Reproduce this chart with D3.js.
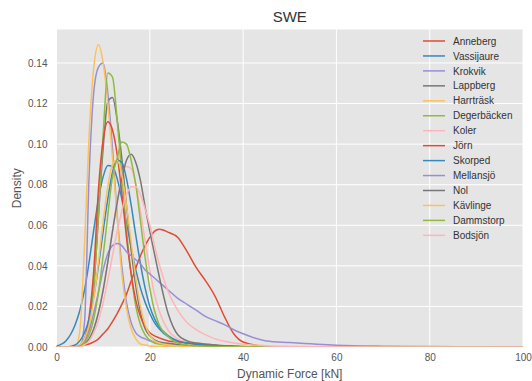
<!DOCTYPE html>
<html>
<head>
<meta charset="utf-8">
<script src="https://cdn.jsdelivr.net/npm/d3@7"></script>
<style>
  body { margin: 0; background: #fff; }
  svg { font-family: "Liberation Sans", Arial, sans-serif; }
</style>
</head>
<body>
<svg id="chart"></svg>
<script>
let width = 532
let height = 381
let margin = {top: 29.5, right: 9, bottom: 34, left: 56.5}

let title = "SWE"
let xLabel = "Dynamic Force [kN]"
let yLabel = "Density"

let xTicks = [0, 20, 40, 60, 80, 100]
let yTicks = [0, 0.02, 0.04, 0.06, 0.08, 0.10, 0.12, 0.14]

let sites = ["Anneberg", "Vassijaure", "Krokvik", "Lappberg", "Harrträsk", "Degerbäcken", "Koler",
  "Jörn", "Skorped", "Mellansjö", "Nol", "Kävlinge", "Dammstorp", "Bodsjön"]

// ggplot style colour cycle
let palette = ["#E24A33", "#348ABD", "#988ED5", "#777777", "#FBC15E", "#8EBA42", "#FFB5B8"]

// force grid (kN) shared by all curves
let force = [0, 2, 4, 5, 6, 7, 8, 9, 10, 11, 12, 13, 14, 15, 16, 17, 18, 19, 20, 21, 22,
  24, 26, 28, 30, 32, 34, 36, 38, 40, 45, 50, 60, 70, 80, 90, 100]

// densities, one list per site, same order as force
let anneberg = [0, 0, 0, 0.0005, 0.001, 0.0015, 0.0025, 0.004, 0.0065, 0.009, 0.0125, 0.0165, 0.021, 0.026, 0.0325, 0.039, 0.045, 0.050, 0.054, 0.057, 0.058,
  0.0565, 0.054, 0.047, 0.039, 0.0325, 0.025, 0.015, 0.0065, 0.0025, 0.0003, 0.0001, 0, 0, 0, 0, 0]
let vassijaure = [0.0005, 0.003, 0.011, 0.018, 0.028, 0.042, 0.058, 0.073, 0.084, 0.0895, 0.089, 0.083, 0.073, 0.061, 0.049, 0.038, 0.029, 0.022, 0.0165, 0.012, 0.009,
  0.005, 0.003, 0.002, 0.0015, 0.001, 0.0007, 0.0004, 0.0002, 0.0001, 0, 0, 0, 0, 0, 0, 0]
let krokvik = [0, 0, 0, 0, 0.012, 0.085, 0.126, 0.138, 0.140, 0.125, 0.098, 0.065, 0.040, 0.022, 0.012, 0.007, 0.005, 0.004, 0.003, 0.0025, 0.002,
  0.0015, 0.001, 0.0007, 0.0005, 0.0003, 0.0002, 0, 0, 0, 0, 0, 0, 0, 0, 0, 0]
let lappberg = [0, 0, 0, 0.0005, 0.003, 0.012, 0.030, 0.065, 0.098, 0.121, 0.123, 0.112, 0.093, 0.070, 0.048, 0.030, 0.017, 0.009, 0.0055, 0.0035, 0.0025,
  0.0018, 0.0012, 0.0008, 0.0005, 0.0003, 0.0002, 0, 0, 0, 0, 0, 0, 0, 0, 0, 0]
let harrtrask = [0, 0, 0, 0.008, 0.050, 0.105, 0.138, 0.149, 0.140, 0.120, 0.093, 0.064, 0.036, 0.019, 0.009, 0.004, 0.0015, 0.001, 0.0005, 0.0003, 0.0002,
  0.0002, 0.0001, 0, 0, 0, 0, 0, 0, 0, 0, 0, 0, 0, 0, 0, 0]
let degerbacken = [0, 0, 0, 0, 0.002, 0.010, 0.030, 0.065, 0.105, 0.135, 0.133, 0.112, 0.085, 0.058, 0.036, 0.020, 0.011, 0.006, 0.0035, 0.002, 0.0015,
  0.001, 0.0006, 0.0003, 0.0002, 0, 0, 0, 0, 0, 0, 0, 0, 0, 0, 0, 0]
let koler = [0, 0, 0, 0.0005, 0.0015, 0.004, 0.009, 0.017, 0.028, 0.042, 0.057, 0.072, 0.084, 0.089, 0.088, 0.080, 0.067, 0.052, 0.038, 0.026, 0.018,
  0.008, 0.004, 0.0025, 0.0018, 0.0012, 0.0008, 0.0005, 0.0003, 0.0002, 0, 0, 0, 0, 0, 0, 0]
let jorn = [0, 0, 0, 0.001, 0.004, 0.015, 0.038, 0.078, 0.102, 0.111, 0.107, 0.095, 0.076, 0.054, 0.036, 0.023, 0.015, 0.010, 0.007, 0.0055, 0.0045,
  0.003, 0.0025, 0.002, 0.0015, 0.001, 0.0008, 0.0006, 0.0004, 0.0002, 0, 0, 0, 0, 0, 0, 0]
let skorped = [0, 0, 0.001, 0.003, 0.007, 0.014, 0.025, 0.040, 0.057, 0.073, 0.086, 0.092, 0.091, 0.083, 0.070, 0.055, 0.041, 0.029, 0.020, 0.014, 0.010,
  0.0055, 0.003, 0.002, 0.0015, 0.001, 0.0008, 0.0005, 0.0003, 0.0001, 0, 0, 0, 0, 0, 0, 0]
let mellansjo = [0, 0, 0, 0, 0.003, 0.008, 0.017, 0.027, 0.038, 0.046, 0.050, 0.051, 0.050, 0.047, 0.045, 0.043, 0.041, 0.038, 0.036, 0.034, 0.032,
  0.028, 0.024, 0.021, 0.018, 0.015, 0.013, 0.011, 0.0085, 0.0065, 0.003, 0.0022, 0.0009, 0.0004, 0.0002, 0.0001, 0]
let nol = [0, 0, 0, 0.0005, 0.0015, 0.004, 0.009, 0.017, 0.028, 0.042, 0.057, 0.071, 0.083, 0.092, 0.095, 0.091, 0.082, 0.069, 0.057, 0.046, 0.035,
  0.016, 0.006, 0.003, 0.002, 0.0015, 0.001, 0.0006, 0.0003, 0.0001, 0, 0, 0, 0, 0, 0, 0]
let kavlinge = [0, 0, 0, 0.001, 0.004, 0.011, 0.024, 0.042, 0.062, 0.079, 0.090, 0.092, 0.085, 0.070, 0.052, 0.034, 0.020, 0.011, 0.006, 0.003, 0.002,
  0.001, 0.0005, 0.0003, 0, 0, 0, 0, 0, 0, 0, 0, 0, 0, 0, 0, 0]
let dammstorp = [0, 0, 0, 0.0005, 0.002, 0.006, 0.014, 0.027, 0.045, 0.065, 0.084, 0.093, 0.101, 0.100, 0.092, 0.080, 0.062, 0.044, 0.029, 0.018, 0.011,
  0.005, 0.002, 0.001, 0.0006, 0.0004, 0.0002, 0, 0, 0, 0, 0, 0, 0, 0, 0, 0]
let bodsjon = [0, 0, 0, 0, 0.001, 0.003, 0.007, 0.013, 0.022, 0.033, 0.045, 0.057, 0.067, 0.075, 0.079, 0.079, 0.075, 0.068, 0.060, 0.050, 0.041,
  0.027, 0.018, 0.012, 0.0085, 0.006, 0.004, 0.0028, 0.002, 0.0014, 0.0006, 0.0003, 0.0001, 0, 0, 0, 0]

let densities = [anneberg, vassijaure, krokvik, lappberg, harrtrask, degerbacken, koler,
  jorn, skorped, mellansjo, nol, kavlinge, dammstorp, bodsjon]

let svg = d3.select("#chart").attr("width", width).attr("height", height)

let xScale = d3.scaleLinear().domain([0, 100]).range([margin.left, width - margin.right])
let yScale = d3.scaleLinear().domain([0, 0.1565]).range([height - margin.bottom, margin.top])

// panel background
svg.append("rect")
  .attr("x", margin.left)
  .attr("y", margin.top)
  .attr("width", width - margin.left - margin.right)
  .attr("height", height - margin.top - margin.bottom)
  .attr("fill", "#E5E5E5")

svg.append("clipPath").attr("id", "clip")
  .append("rect")
  .attr("x", margin.left)
  .attr("y", margin.top)
  .attr("width", width - margin.left - margin.right)
  .attr("height", height - margin.top - margin.bottom)

// grid
svg.append("g")
  .selectAll("line")
  .data(xTicks)
  .enter()
  .append("line")
  .attr("x1", d => xScale(d)).attr("x2", d => xScale(d))
  .attr("y1", margin.top).attr("y2", height - margin.bottom)
  .attr("stroke", "#fff").attr("stroke-width", 1)

svg.append("g")
  .selectAll("line")
  .data(yTicks)
  .enter()
  .append("line")
  .attr("x1", margin.left).attr("x2", width - margin.right)
  .attr("y1", d => yScale(d)).attr("y2", d => yScale(d))
  .attr("stroke", "#fff").attr("stroke-width", 1)

// axes
let xAxis = d3.axisBottom(xScale).tickValues(xTicks).tickSize(0).tickPadding(7).tickFormat(d3.format("d"))
svg.append("g")
  .attr("transform", "translate(0," + (height - margin.bottom) + ")")
  .call(xAxis)
  .call(g => g.select(".domain").remove())
  .selectAll("text").attr("fill", "#555").attr("font-size", 10)

let yAxis = d3.axisLeft(yScale).tickValues(yTicks).tickSize(0).tickPadding(9).tickFormat(d3.format(".2f"))
svg.append("g")
  .attr("transform", "translate(" + margin.left + ",0)")
  .call(yAxis)
  .call(g => g.select(".domain").remove())
  .selectAll("text").attr("fill", "#555").attr("font-size", 10)

// curves
let line = d3.line()
  .x((d, i) => xScale(force[i]))
  .y(d => yScale(d))
  .curve(d3.curveMonotoneX)

svg.append("g")
  .attr("clip-path", "url(#clip)")
  .selectAll("path")
  .data(densities)
  .enter()
  .append("path")
  .attr("d", d => line(d))
  .attr("fill", "none")
  .attr("stroke", (d, i) => palette[i % palette.length])
  .attr("stroke-width", 1.5)

// legend
let legend = svg.append("g").attr("transform", "translate(423,41)")
let rows = legend.selectAll("g")
  .data(sites)
  .enter()
  .append("g")
  .attr("transform", (d, i) => "translate(0," + (i * 14.95) + ")")

rows.append("line")
  .attr("x1", 0).attr("x2", 22)
  .attr("stroke", (d, i) => palette[i % palette.length])
  .attr("stroke-width", 1.5)

rows.append("text")
  .attr("x", 30)
  .attr("y", 3.6)
  .attr("font-size", 10)
  .attr("fill", "#333")
  .text(d => d)

// titles
svg.append("text")
  .attr("x", (margin.left + width - margin.right) / 2)
  .attr("y", 22)
  .attr("text-anchor", "middle")
  .attr("font-size", 15)
  .attr("fill", "#333")
  .text(title)

svg.append("text")
  .attr("x", (margin.left + width - margin.right) / 2)
  .attr("y", 378)
  .attr("text-anchor", "middle")
  .attr("font-size", 12)
  .attr("fill", "#555")
  .text(xLabel)

svg.append("text")
  .attr("transform", "translate(21," + ((margin.top + height - margin.bottom) / 2) + ") rotate(-90)")
  .attr("text-anchor", "middle")
  .attr("font-size", 12)
  .attr("fill", "#555")
  .text(yLabel)
</script>
</body>
</html>
